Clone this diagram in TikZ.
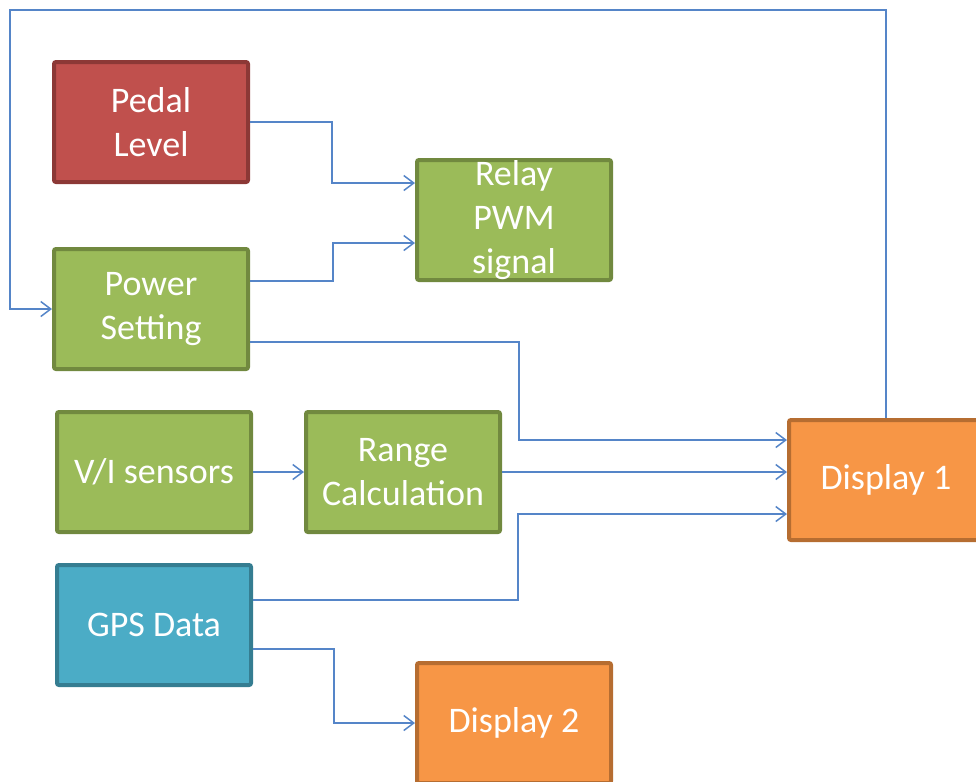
\documentclass[tikz,border=0pt]{standalone}
\usepackage{fontspec}
\setmainfont{Carlito}
\usetikzlibrary{arrows.meta}

\definecolor{redfill}{HTML}{C0504D}
\definecolor{redline}{HTML}{8C3836}
\definecolor{greenfill}{HTML}{9BBB59}
\definecolor{greenline}{HTML}{71893F}
\definecolor{bluefill}{HTML}{4BACC6}
\definecolor{blueline}{HTML}{357D91}
\definecolor{orangefill}{HTML}{F79646}
\definecolor{orangeline}{HTML}{B66D31}
\definecolor{wire}{HTML}{5585C8}

\tikzset{
  block/.style={draw, line width=2pt, rounded corners=1pt, text=white,
    minimum width=97pt, minimum height=60pt, align=center,
    font=\fontsize{18}{22}\selectfont},
  redblock/.style={block, fill=redfill, draw=redline},
  greenblock/.style={block, fill=greenfill, draw=greenline},
  blueblock/.style={block, fill=bluefill, draw=blueline},
  orangeblock/.style={block, fill=orangefill, draw=orangeline},
  link/.style={draw=wire, line width=0.75pt,
    -{Straight Barb[length=5pt,width=7.5pt]}}
}

\begin{document}
\begin{tikzpicture}[x=0.5pt,y=-0.5pt]
    \useasboundingbox (0,0) rectangle (976,782);

    \node[redblock] (pedal) at (151,122) {Pedal\\Level};
    \node[greenblock] (power) at (151,309) {Power\\Setting};
    \node[greenblock, inner ysep=-1pt] (relay) at (514,220) {Relay\\PWM\\signal};
    \node[greenblock] (sensors) at (154,472) {V/I sensors};
    \node[greenblock] (range) at (403,472) {Range\\Calculation};
    \node[blueblock] (gps) at (154,625) {GPS Data};
    \node[orangeblock] (disp1) at (886,480) {Display 1};
    \node[orangeblock] (disp2) at (514,723) {Display 2};

    \draw[link] (pedal.east) -- (332,122) |- (relay.west |- 0,183);
    \draw[link] (power.east |- 0,281) -- (333,281) |- (relay.west |- 0,243);
    \draw[link] (power.east |- 0,342) -- (519,342) |- (disp1.west |- 0,440);
    \draw[link] (sensors.east) -- (range.west);
    \draw[link] (range.east) -- (disp1.west |- range.east);
    \draw[link] (gps.east |- 0,600) -- (518,600) |- (disp1.west |- 0,514);
    \draw[link] (gps.east |- 0,649) -- (334,649) |- (disp2.west);
    \draw[link] (disp1.north) |- (10,10) |- (power.west);
\end{tikzpicture}
\end{document}
